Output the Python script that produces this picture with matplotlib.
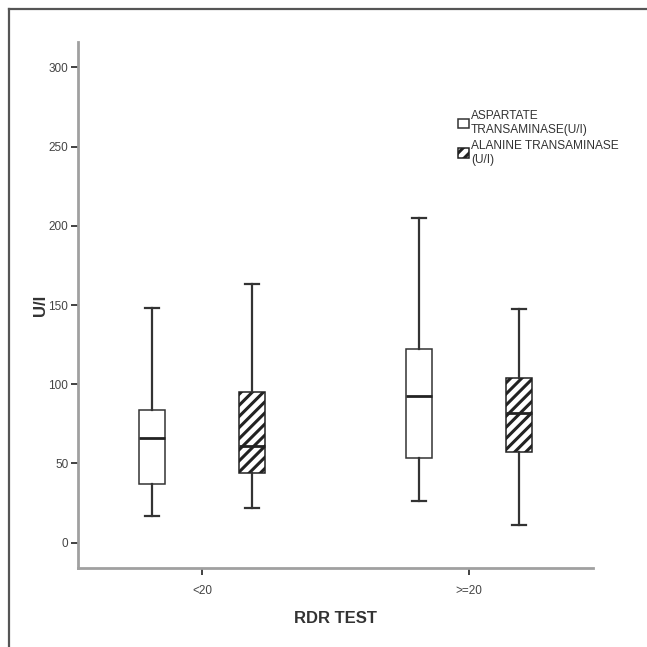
import matplotlib
matplotlib.use("Agg")
import matplotlib.pyplot as plt
from matplotlib.patches import Patch
from matplotlib.lines import Line2D

plt.rcParams["font.family"] = ["Liberation Sans", "DejaVu Sans"]
plt.rcParams["hatch.linewidth"] = 2.2

# RDR test groups and box statistics (U/I)
groups = ["<20", ">=20"]
series = ["ASPARTATE\nTRANSAMINASE(U/I)", "ALANINE TRANSAMINASE\n(U/I)"]
ast_low = [17, 26]
ast_q1 = [37, 53.5]
ast_med = [66, 92.5]
ast_q3 = [84, 122]
ast_high = [148, 205]
alt_low = [22, 11]
alt_q1 = [44, 57]
alt_med = [61, 82]
alt_q3 = [95, 104]
alt_high = [163.5, 147.5]
yticks = [0, 50, 100, 150, 200, 250, 300]


def make_stats(low, q1, med, q3, high):
    return [
        {"whislo": a, "q1": b, "med": c, "q3": d, "whishi": e, "fliers": []}
        for a, b, c, d, e in zip(low, q1, med, q3, high)
    ]


fig = plt.figure(figsize=(6.47, 6.47), dpi=100)
ax = fig.add_axes([0.1206, 0.1221, 0.9165 - 0.1206, 0.935 - 0.1221])

pos = [1, 2]
off = 0.187
line_kw = dict(color="#333333", linewidth=1.6)

ax.bxp(make_stats(ast_low, ast_q1, ast_med, ast_q3, ast_high),
       positions=[p - off for p in pos], widths=0.097, capwidths=0.05,
       patch_artist=True, showfliers=False,
       boxprops=dict(facecolor="white", edgecolor="#333333", linewidth=1.1),
       medianprops=dict(color="#222222", linewidth=2),
       whiskerprops=line_kw, capprops=line_kw)
ax.bxp(make_stats(alt_low, alt_q1, alt_med, alt_q3, alt_high),
       positions=[p + off for p in pos], widths=0.097, capwidths=0.05,
       patch_artist=True, showfliers=False,
       boxprops=dict(facecolor="white", edgecolor="#222222", linewidth=1.1, hatch="///"),
       medianprops=dict(color="#222222", linewidth=2),
       whiskerprops=line_kw, capprops=line_kw)

ax.set_xlim(0.536, 2.464)
ax.set_ylim(-16, 316)
ax.set_xticks(pos)
ax.set_xticklabels(groups)
ax.set_yticks(yticks)

for s in ["top", "right"]:
    ax.spines[s].set_visible(False)
for s in ["left", "bottom"]:
    ax.spines[s].set_color("#a0a0a0")
    ax.spines[s].set_linewidth(2)
ax.tick_params(axis="both", direction="out", length=5, width=1.3, color="#333333",
               labelsize=8.5, labelcolor="#444444", pad=2)
ax.tick_params(axis="x", pad=7)

ax.set_xlabel("RDR TEST", fontsize=12, fontweight="bold", color="#333333", labelpad=10)
ax.set_ylabel("U/I", fontsize=12, fontweight="bold", color="#333333", labelpad=0)

handles = [Patch(facecolor="white", edgecolor="#333333", linewidth=1.1),
           Patch(facecolor="white", edgecolor="#222222", linewidth=1.1, hatch="///")]
fig.legend(handles, series, loc="upper left", bbox_to_anchor=(0.692, 0.846),
           frameon=False, fontsize=8.6, handlelength=0.85, handleheight=0.85,
           handletextpad=0.2, labelspacing=0.3, labelcolor="#333333")

# outer frame of the figure panel
fig.add_artist(Line2D([9 / 647, 1.0], [1 - 9 / 647, 1 - 9 / 647],
                      transform=fig.transFigure, color="#555555", linewidth=1.6))
fig.add_artist(Line2D([9 / 647, 9 / 647], [0.0, 1 - 9 / 647],
                      transform=fig.transFigure, color="#555555", linewidth=1.6))

fig.savefig("out.png", dpi=100)
